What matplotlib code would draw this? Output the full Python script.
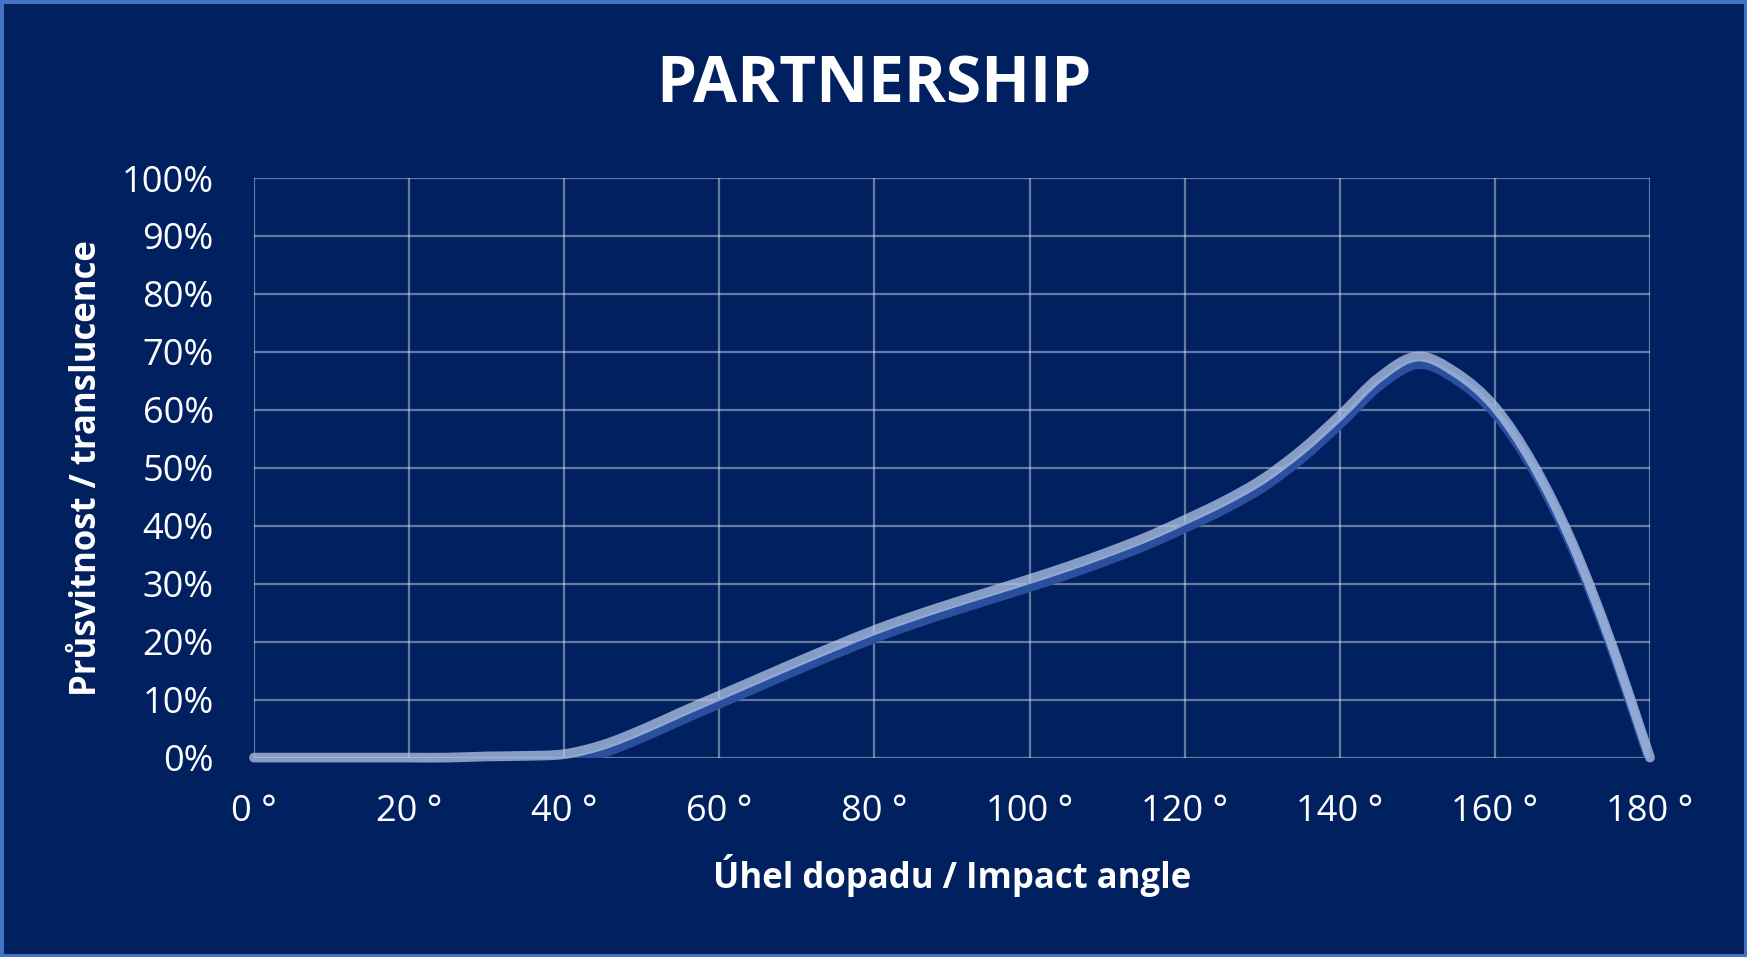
import numpy as np
import matplotlib
matplotlib.use("Agg")
import matplotlib.pyplot as plt
from matplotlib.path import Path
from matplotlib.patches import PathPatch, Rectangle
from matplotlib.transforms import ScaledTranslation

# values (light curve centre), every 5 degrees
angle_deg = [0, 5, 10, 15, 20, 25, 30, 35, 40, 45, 50, 55, 60, 65, 70, 75, 80, 85, 90,
             95, 100, 105, 110, 115, 120, 125, 130, 135, 140, 145, 150, 155, 160, 165,
             170, 175, 180]
translucence_pct = [0, 0, 0, 0, 0, 0, 0.2, 0.3, 0.6, 2.2, 4.8, 7.8, 10.7, 13.6, 16.5, 19.3,
                    22.0, 24.4, 26.6, 28.7, 30.8, 33.0, 35.4, 38.0, 41.0, 44.2, 48.0, 53.0,
                    59.0, 65.5, 69.2, 66.4, 60.5, 50.5, 37.0, 19.8, 0]

x_ticks = [0, 20, 40, 60, 80, 100, 120, 140, 160, 180]
x_labels = ["0 °", "20 °", "40 °", "60 °", "80 °", "100 °", "120 °", "140 °", "160 °", "180 °"]
y_ticks = [0, 10, 20, 30, 40, 50, 60, 70, 80, 90, 100]
y_labels = [f"{v}%" for v in y_ticks]

TITLE = "PARTNERSHIP"
X_LABEL = "Úhel dopadu / Impact angle"
Y_LABEL = "Průsvitnost / translucence"

BG = "#002060"
BORDER = "#4472C4"
LINE = "#B4C7E7"
SHADOW = "#2B4F9F"

plt.rcParams["font.family"] = ["Open Sans", "DejaVu Sans"]


def smooth_path(xs, ys):
    """Excel-style smoothed line: cubic Bezier through every point."""
    pts = np.column_stack([xs, ys]).astype(float)
    n = len(pts)
    verts = [pts[0]]
    codes = [Path.MOVETO]
    for i in range(n - 1):
        p0 = pts[max(i - 1, 0)]
        p1 = pts[i]
        p2 = pts[i + 1]
        p3 = pts[min(i + 2, n - 1)]
        c1 = p1 + (p2 - p0) / 6.0
        c2 = p2 - (p3 - p1) / 6.0
        verts += [c1, c2, p2]
        codes += [Path.CURVE4] * 3
    return Path(verts, codes)


fig = plt.figure(figsize=(17.47, 9.57), dpi=100)
fig.patch.set_facecolor(BG)
ax = fig.add_axes([254 / 1747, 1 - 757.6 / 957, (1650 - 254) / 1747, (757.6 - 178) / 957])
ax.set_facecolor(BG)

ax.set_xlim(0, 180)
ax.set_ylim(0, 100)
ax.set_xticks(x_ticks)
ax.set_xticklabels(x_labels)
ax.set_yticks(y_ticks)
ax.set_yticklabels(y_labels)
ax.tick_params(axis="both", length=0, colors="white", labelsize=26)
ax.tick_params(axis="x", pad=26)
ax.tick_params(axis="y", pad=29)
for s in ax.spines.values():
    s.set_visible(False)
ax.grid(True, color="white", alpha=0.4, linewidth=1.6)
ax.set_axisbelow(True)

path = smooth_path(angle_deg, translucence_pct)
shadow_tr = ax.transData + ScaledTranslation(0.8 / 72, -5.5 / 72, fig.dpi_scale_trans)
ax.add_patch(PathPatch(path, facecolor="none", edgecolor=SHADOW, lw=7,
                       transform=shadow_tr, capstyle="round", joinstyle="round", zorder=3))
ax.add_patch(PathPatch(path, facecolor="none", edgecolor=LINE, lw=7, alpha=0.75,
                       capstyle="round", joinstyle="round", clip_on=False, zorder=4))

fig.text(0.5, 1 - 102.5 / 957, TITLE, color="white", fontsize=46, fontweight="bold",
         ha="center", va="baseline")
fig.text(952 / 1747, 1 - 888 / 957, X_LABEL, color="white", fontsize=25, fontweight="bold",
         ha="center", va="baseline")
fig.text(87 / 1747, 1 - 467.8 / 957, Y_LABEL, color="white", fontsize=25, fontweight="bold",
         ha="center", va="center", rotation=90)

fig.patches.append(Rectangle((0, 0), 1, 1, transform=fig.transFigure, fill=False,
                             edgecolor=BORDER, lw=5, zorder=10))

fig.savefig("out.png", dpi=100, facecolor=BG)
